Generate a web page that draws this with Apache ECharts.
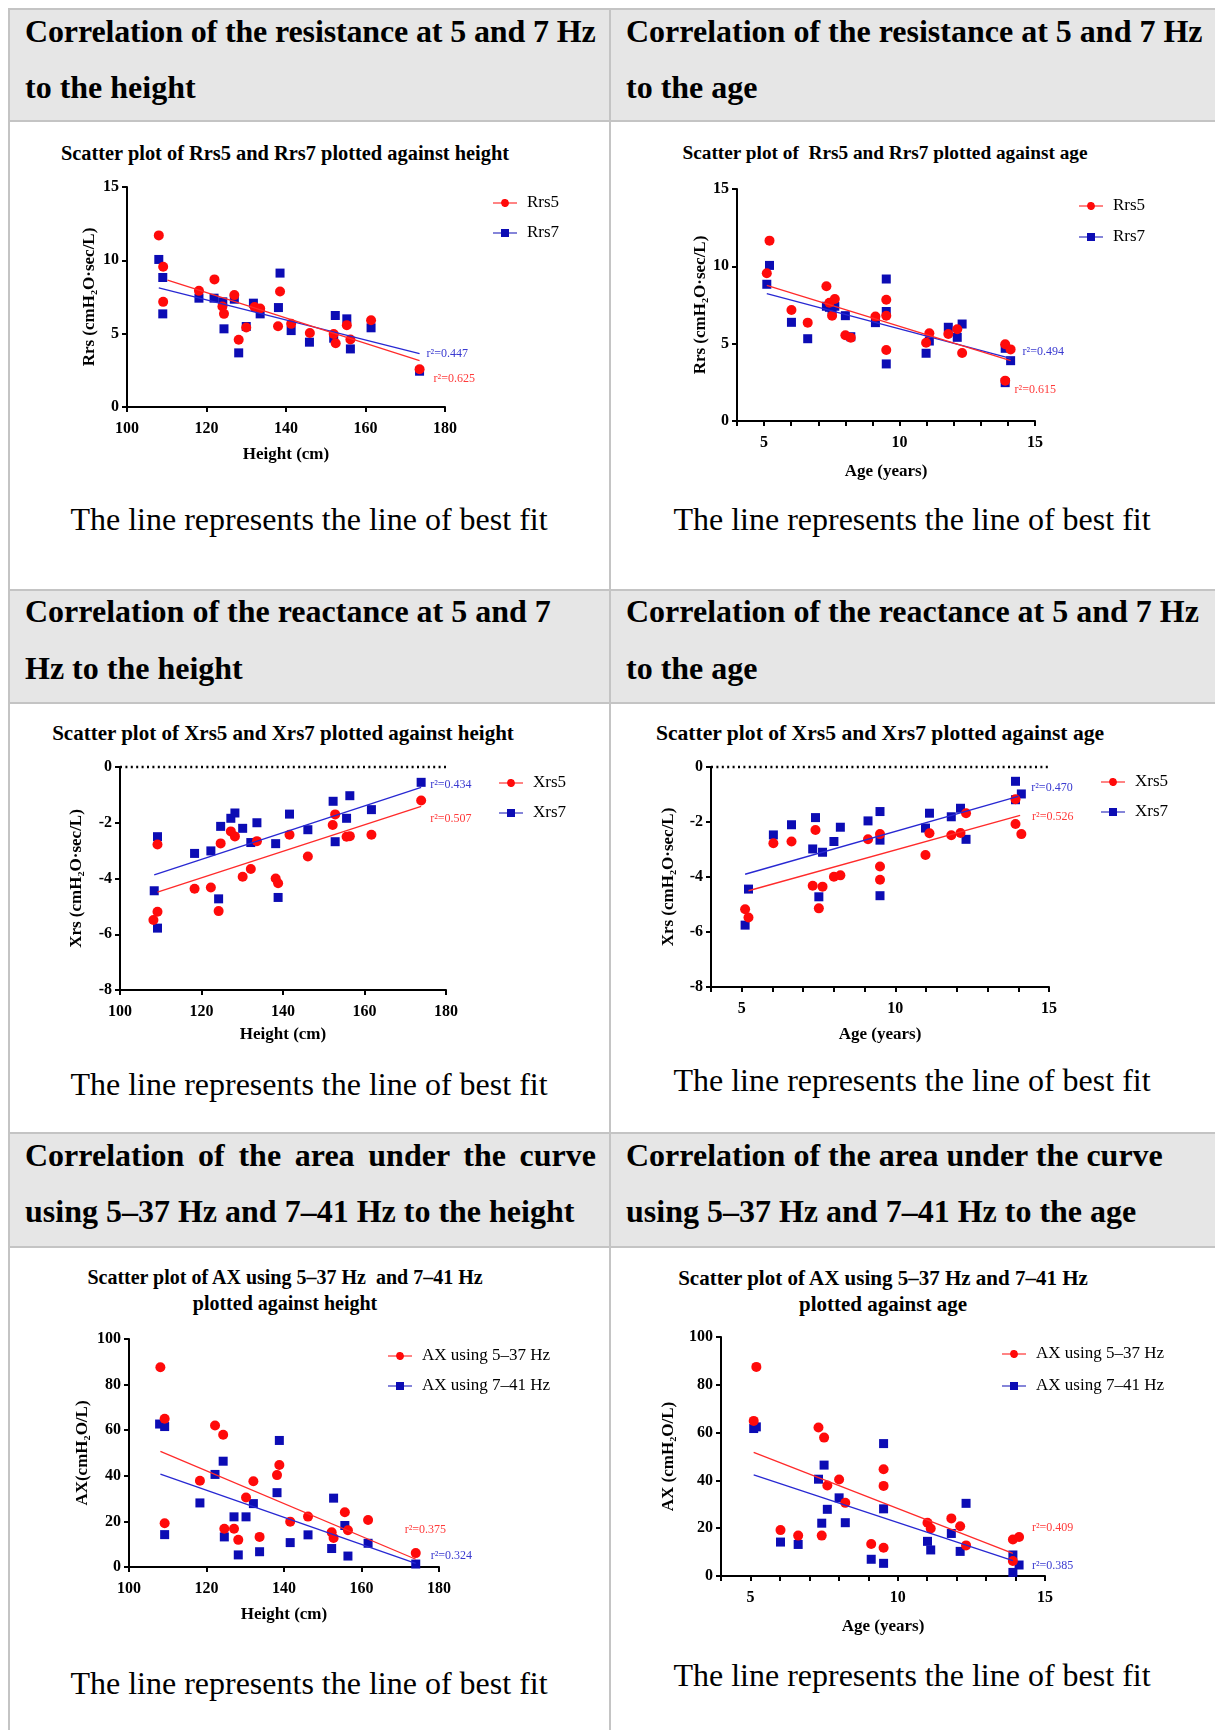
<!DOCTYPE html>
<html><head><meta charset="utf-8">
<script src="https://cdn.jsdelivr.net/npm/echarts@6/dist/echarts.min.js"></script>
<style>
html,body{margin:0;padding:0;background:#fff;}
#page{position:relative;width:1215px;height:1730px;overflow:hidden;font-family:'Liberation Serif','Times New Roman',serif;color:#000;}
.bg{position:absolute;background:#e6e6e6;}
.hl{position:absolute;background:#c4c4c4;height:2px;}
.vl{position:absolute;background:#c4c4c4;width:2px;}
.ht{position:absolute;font-weight:bold;font-size:32px;line-height:40px;white-space:pre;}
.just{white-space:normal;text-align:justify;text-align-last:justify;}
.cap{position:absolute;font-size:32px;line-height:40px;text-align:center;white-space:pre;width:600px;}
.ct{position:absolute;font-weight:bold;font-size:20px;line-height:24px;text-align:center;white-space:pre;width:600px;}
#chart{position:absolute;left:0;top:0;width:1215px;height:1730px;}
</style></head>
<body>
<div id="page">
  <div class="bg" style="left:10px;top:10px;width:599px;height:110px"></div>
  <div class="bg" style="left:611px;top:10px;width:604px;height:110px"></div>
  <div class="bg" style="left:10px;top:591px;width:599px;height:111px"></div>
  <div class="bg" style="left:611px;top:591px;width:604px;height:111px"></div>
  <div class="bg" style="left:10px;top:1134px;width:599px;height:112px"></div>
  <div class="bg" style="left:611px;top:1134px;width:604px;height:112px"></div>
  <div class="hl" style="left:8px;top:8px;width:1207px"></div>
  <div class="hl" style="left:8px;top:120px;width:1207px"></div>
  <div class="hl" style="left:8px;top:589px;width:1207px"></div>
  <div class="hl" style="left:8px;top:702px;width:1207px"></div>
  <div class="hl" style="left:8px;top:1132px;width:1207px"></div>
  <div class="hl" style="left:8px;top:1246px;width:1207px"></div>
  <div class="vl" style="left:8px;top:8px;height:1722px"></div>
  <div class="vl" style="left:609px;top:8px;height:1722px"></div>

  <div class="ht" style="left:25px;top:11px;letter-spacing:-0.14px">Correlation of the resistance at 5 and 7 Hz</div>
  <div class="ht" style="left:25px;top:67px">to the height</div>
  <div class="ht" style="left:626px;top:11px">Correlation of the resistance at 5 and 7 Hz</div>
  <div class="ht" style="left:626px;top:67px">to the age</div>

  <div class="ht" style="left:25px;top:591px">Correlation of the reactance at 5 and 7</div>
  <div class="ht" style="left:25px;top:648px">Hz to the height</div>
  <div class="ht" style="left:626px;top:591px">Correlation of the reactance at 5 and 7 Hz</div>
  <div class="ht" style="left:626px;top:648px">to the age</div>

  <div class="ht just" style="left:25px;top:1135px;width:571px">Correlation of the area under the curve</div>
  <div class="ht" style="left:25px;top:1191px">using 5–37 Hz and 7–41 Hz to the height</div>
  <div class="ht" style="left:626px;top:1135px">Correlation of the area under the curve</div>
  <div class="ht" style="left:626px;top:1191px">using 5–37 Hz and 7–41 Hz to the age</div>

  <div class="ct" style="left:-15px;top:141px;font-size:20.4px">Scatter plot of Rrs5 and Rrs7 plotted against height</div>
  <div class="ct" style="left:585px;top:141px;font-size:19.3px">Scatter plot of  Rrs5 and Rrs7 plotted against age</div>
  <div class="ct" style="left:-17px;top:721px;font-size:21px">Scatter plot of Xrs5 and Xrs7 plotted against height</div>
  <div class="ct" style="left:580px;top:721px;font-size:21.6px">Scatter plot of Xrs5 and Xrs7 plotted against age</div>
  <div class="ct" style="left:-15px;top:1264px;line-height:26px">Scatter plot of AX using 5–37 Hz  and 7–41 Hz
plotted against height</div>
  <div class="ct" style="left:583px;top:1265px;line-height:26px;font-size:21px">Scatter plot of AX using 5–37 Hz and 7–41 Hz
plotted against age</div>

  <div class="cap" style="left:9px;top:499px">The line represents the line of best fit</div>
  <div class="cap" style="left:612px;top:499px">The line represents the line of best fit</div>
  <div class="cap" style="left:9px;top:1064px">The line represents the line of best fit</div>
  <div class="cap" style="left:612px;top:1060px">The line represents the line of best fit</div>
  <div class="cap" style="left:9px;top:1663px">The line represents the line of best fit</div>
  <div class="cap" style="left:612px;top:1655px">The line represents the line of best fit</div>

  <div id="chart"></div>
</div>
<script>
// ---------- data ----------
const rrs5VsHeight = [[108.0,11.70],[109.1,9.56],[109.1,7.17],[118.1,7.92],[122.0,8.70],[124.0,6.85],[124.4,6.35],[127.0,7.63],[128.1,4.58],[130.0,5.42],[132.1,6.81],[133.5,6.72],[138.0,5.51],[138.5,7.88],[141.3,5.67],[146.0,5.05],[152.0,4.98],[152.5,4.35],[155.3,5.58],[156.2,4.60],[161.4,5.92],[173.6,2.57]];
const rrs7VsHeight = [[108.0,10.06],[109.0,8.83],[109.0,6.35],[118.1,7.42],[121.9,7.42],[124.1,7.17],[124.4,5.33],[127.0,7.35],[128.1,3.69],[130.0,5.49],[131.8,7.08],[133.5,6.35],[138.1,6.78],[138.5,9.13],[141.3,5.21],[145.9,4.42],[152.0,4.69],[152.4,6.24],[155.3,6.01],[156.2,3.96],[161.4,5.40],[173.6,2.44]];
const rrs5VsAge = [[5.10,9.55],[5.20,11.66],[6.01,7.18],[6.61,6.36],[7.30,8.71],[7.41,7.65],[7.51,6.81],[7.61,7.89],[8.00,5.54],[8.20,5.39],[9.11,6.75],[9.51,7.84],[9.51,6.81],[9.51,4.59],[10.98,5.06],[11.10,5.67],[11.80,5.63],[12.13,5.93],[12.31,4.40],[13.90,4.96],[14.10,4.63],[13.90,2.61]];
const rrs7VsAge = [[5.10,8.84],[5.20,10.06],[6.01,6.38],[6.61,5.32],[7.30,7.42],[7.41,7.35],[7.51,7.17],[7.61,7.42],[8.00,6.81],[8.20,5.45],[9.11,6.36],[9.51,9.18],[9.51,7.08],[9.51,3.69],[10.98,4.38],[11.10,5.17],[11.80,6.06],[12.13,5.41],[12.31,6.27],[13.90,4.70],[14.10,3.90],[13.90,2.48]];
const xrs5VsHeight = [[108.2,-5.49],[109.2,-2.78],[109.2,-5.19],[118.3,-4.37],[122.3,-4.32],[124.2,-5.17],[124.7,-2.74],[127.2,-2.31],[128.2,-2.49],[130.1,-3.94],[132.1,-3.66],[133.6,-2.66],[138.2,-4.00],[138.8,-4.17],[141.6,-2.43],[146.1,-3.21],[152.2,-2.08],[152.8,-1.70],[155.6,-2.50],[156.4,-2.48],[161.7,-2.43],[173.9,-1.20]];
const xrs7VsHeight = [[108.4,-4.44],[109.2,-2.50],[109.2,-5.78],[118.3,-3.10],[122.3,-3.01],[124.2,-4.73],[124.7,-2.13],[127.2,-1.84],[128.2,-1.65],[130.1,-2.20],[132.1,-2.71],[133.6,-2.00],[138.2,-2.75],[138.8,-4.68],[141.6,-1.69],[146.1,-2.25],[152.3,-1.23],[152.8,-2.68],[155.6,-1.84],[156.4,-1.03],[161.7,-1.53],[173.9,-0.55]];
const xrs5VsAge = [[5.11,-5.17],[5.22,-5.47],[6.03,-2.77],[6.62,-2.71],[7.31,-4.32],[7.40,-2.29],[7.51,-5.14],[7.63,-4.35],[8.00,-3.99],[8.21,-3.94],[9.11,-2.63],[9.50,-2.44],[9.50,-3.62],[9.50,-4.10],[10.98,-3.20],[11.11,-2.41],[11.82,-2.48],[12.12,-2.40],[12.30,-1.68],[13.91,-1.17],[13.91,-2.07],[14.10,-2.44]];
const xrs7VsAge = [[5.11,-5.75],[5.22,-4.44],[6.03,-2.47],[6.62,-2.10],[7.31,-2.98],[7.40,-1.84],[7.51,-4.72],[7.63,-3.10],[8.00,-2.71],[8.21,-2.19],[9.11,-1.96],[9.50,-1.62],[9.50,-2.66],[9.50,-4.68],[10.98,-2.22],[11.11,-1.68],[11.82,-1.81],[12.12,-1.50],[12.30,-2.63],[13.91,-0.52],[13.91,-1.19],[14.10,-0.98]];
const ax537VsHeight = [[108.1,87.6],[109.2,65.0],[109.2,19.2],[118.3,37.8],[122.2,62.1],[124.3,58.0],[124.6,16.8],[127.1,16.8],[128.2,11.9],[130.2,30.5],[132.1,37.6],[133.7,13.2],[138.2,40.3],[138.8,44.7],[141.6,19.9],[146.2,22.1],[152.3,15.2],[152.8,12.7],[155.7,24.0],[156.5,16.1],[161.7,20.6],[174.0,6.1]];
const ax741VsHeight = [[107.9,62.7],[109.2,61.6],[109.2,14.2],[118.3,28.1],[122.2,40.6],[124.3,46.4],[124.6,13.2],[127.1,22.0],[128.2,5.3],[130.2,22.0],[132.1,27.8],[133.7,6.7],[138.2,32.6],[138.8,55.5],[141.6,10.7],[146.2,14.1],[152.3,8.1],[152.8,30.2],[155.7,18.2],[156.5,4.8],[161.7,10.4],[174.0,1.3]];
const ax537VsAge = [[5.11,64.9],[5.20,87.5],[6.02,19.2],[6.62,16.9],[7.31,62.1],[7.42,16.9],[7.50,57.9],[7.61,37.9],[8.01,40.4],[8.22,30.6],[9.10,13.4],[9.52,44.7],[9.52,37.7],[9.52,11.8],[11.01,22.3],[11.12,19.9],[11.82,24.1],[12.12,20.8],[12.32,12.8],[13.91,15.3],[14.12,16.3],[13.91,6.3]];
const ax741VsAge = [[5.11,61.7],[5.20,62.4],[6.02,14.2],[6.62,13.2],[7.31,40.5],[7.42,22.1],[7.50,46.4],[7.61,27.9],[8.01,32.7],[8.22,22.3],[9.10,7.0],[9.52,55.4],[9.52,28.1],[9.52,5.3],[11.01,14.5],[11.12,10.9],[11.82,17.8],[12.12,10.3],[12.32,30.4],[13.91,8.8],[14.12,4.6],[13.91,1.5]];

// best-fit line end points
const fitRrs5Height = [[110.2,8.65],[173.6,3.16]];
const fitRrs7Height = [[108.0,8.13],[173.6,3.64]];
const fitRrs5Age = [[5.1,8.77],[14.1,3.90]];
const fitRrs7Age = [[5.1,8.23],[14.1,4.05]];
const fitXrs5Height = [[109.2,-4.49],[173.9,-1.41]];
const fitXrs7Height = [[108.4,-3.87],[173.9,-0.73]];
const fitXrs5Age = [[5.22,-4.50],[14.06,-1.76]];
const fitXrs7Age = [[5.11,-3.90],[14.0,-1.07]];
const fitAx537Height = [[108.1,50.7],[174.0,3.4]];
const fitAx741Height = [[108.1,40.7],[174.0,1.6]];
const fitAx537Age = [[5.11,51.7],[13.91,9.5]];
const fitAx741Age = [[5.11,42.3],[13.91,6.4]];

// r squared values (red series, blue series) per panel
const r2Red = [0.625, 0.615, 0.507, 0.526, 0.375, 0.409];
const r2Blue = [0.447, 0.494, 0.434, 0.470, 0.324, 0.385];

// ---------- styling ----------
const FONT = "'Liberation Serif','Times New Roman',serif";
const RED = '#ff0a0a', BLUE = '#0c0cb4', RED_LINE = '#ff2a2a', BLUE_LINE = '#2828d2', RED_TXT = '#ff3a3a', BLUE_TXT = '#3a3ad0';
const CIRCLE_ICON = 'path://M0,4.4H8.05A4,4 0 0 1 15.95,4.4H24V5.6H15.95A4,4 0 0 1 8.05,5.6H0Z';
const SQUARE_ICON = 'path://M0,4.4H8V1H16V4.4H24V5.6H16V9H8V5.6H0Z';
const ageFmt = v => (v % 5 === 0 ? String(v) : '');

const heightAxis = {min:100, max:180, interval:20, name:'Height (cm)'};
const ageAxis = {min:4, max:15, interval:1, name:'Age (years)', fmt:ageFmt};

const panels = [
  {grid:{left:127,top:187,width:318,height:220}, x:Object.assign({gap:39},heightAxis),
   y:{min:0,max:15,interval:5,name:'Rrs (cmH₂O·sec/L)',gap:29},
   red:{name:'Rrs5',data:rrs5VsHeight,fit:fitRrs5Height,off:[14,18]},
   blue:{name:'Rrs7',data:rrs7VsHeight,fit:fitRrs7Height,off:[7,0]},
   legend:{left:493,top:193,gap:10}},
  {grid:{left:737,top:189,width:298,height:232}, x:Object.assign({gap:42},ageAxis),
   y:{min:0,max:15,interval:5,name:'Rrs (cmH₂O·sec/L)',gap:28},
   red:{name:'Rrs5',data:rrs5VsAge,fit:fitRrs5Age,off:[4,29]},
   blue:{name:'Rrs7',data:rrs7VsAge,fit:fitRrs7Age,off:[12,-7]},
   legend:{left:1079,top:196,gap:11}},
  {grid:{left:120,top:767,width:326,height:223}, x:Object.assign({gap:36},heightAxis),
   y:{min:-8,max:0,interval:2,name:'Xrs (cmH₂O·sec/L)',gap:35},
   red:{name:'Xrs5',data:xrs5VsHeight,fit:fitXrs5Height,off:[9,13]},
   blue:{name:'Xrs7',data:xrs7VsHeight,fit:fitXrs7Height,off:[9,-3]},
   legend:{left:499,top:773,gap:10}, zero:true},
  {grid:{left:711,top:767,width:338,height:220}, x:Object.assign({gap:39},ageAxis),
   y:{min:-8,max:0,interval:2,name:'Xrs (cmH₂O·sec/L)',gap:34},
   red:{name:'Xrs5',data:xrs5VsAge,fit:fitXrs5Age,off:[12,1]},
   blue:{name:'Xrs7',data:xrs7VsAge,fit:fitXrs7Age,off:[13,-9]},
   legend:{left:1101,top:772,gap:10}, zero:true},
  {grid:{left:129,top:1339,width:310,height:228}, x:Object.assign({gap:39},heightAxis),
   y:{min:0,max:100,interval:20,name:'AX(cmH₂O/L)',gap:38},
   red:{name:'AX using 5–37 Hz',data:ax537VsHeight,fit:fitAx537Height,off:[-11,-29]},
   blue:{name:'AX using 7–41 Hz',data:ax741VsHeight,fit:fitAx741Height,off:[15,-8]},
   legend:{left:388,top:1346,gap:10}},
  {grid:{left:721,top:1337,width:324,height:239}, x:Object.assign({gap:42},ageAxis),
   y:{min:0,max:100,interval:20,name:'AX (cmH₂O/L)',gap:44},
   red:{name:'AX using 5–37 Hz',data:ax537VsAge,fit:fitAx537Age,off:[19,-25]},
   blue:{name:'AX using 7–41 Hz',data:ax741VsAge,fit:fitAx741Age,off:[19,5]},
   legend:{left:1002,top:1344,gap:12}}
];

const grids = [], xAxes = [], yAxes = [], series = [], legends = [];
const axLine = {onZero:false, lineStyle:{color:'#000', width:2}};
const axTick = {length:5, lineStyle:{color:'#000', width:2}};
const nameStyle = {fontFamily:FONT, fontWeight:'bold', fontSize:17, color:'#000'};

panels.forEach((p, i) => {
  grids.push(Object.assign({outerBoundsMode:'none', containLabel:false}, p.grid));
  const xLabel = {margin:14, fontFamily:FONT, fontWeight:'bold', fontSize:16, color:'#000'};
  if (p.x.fmt) xLabel.formatter = p.x.fmt;
  xAxes.push({type:'value', gridIndex:i, min:p.x.min, max:p.x.max, interval:p.x.interval,
    name:p.x.name, nameLocation:'middle', nameGap:p.x.gap, nameTextStyle:nameStyle,
    axisLine:axLine, axisTick:axTick, axisLabel:xLabel, splitLine:{show:false}});
  yAxes.push({type:'value', gridIndex:i, min:p.y.min, max:p.y.max, interval:p.y.interval,
    name:p.y.name, nameLocation:'middle', nameGap:p.y.gap, nameTextStyle:nameStyle,
    axisLine:axLine, axisTick:axTick,
    axisLabel:{margin:8, fontFamily:FONT, fontWeight:'bold', fontSize:16, color:'#000'},
    splitLine:{show:false}});
  const fitLine = (s, color, txt, r2) => ({
    type:'line', name:'fit ' + s.name + ' ' + i, xAxisIndex:i, yAxisIndex:i, data:s.fit,
    symbol:'none', silent:true, lineStyle:{color:color, width:1.3}, itemStyle:{color:color},
    endLabel:{show:true, formatter:'r²=' + r2.toFixed(3), color:txt, fontFamily:FONT, fontSize:12,
      distance:0, offset:s.off}
  });
  series.push(fitLine(p.blue, BLUE_LINE, BLUE_TXT, r2Blue[i]));
  series.push(fitLine(p.red, RED_LINE, RED_TXT, r2Red[i]));
  series.push({type:'scatter', name:p.blue.name, xAxisIndex:i, yAxisIndex:i, data:p.blue.data,
    symbol:'rect', symbolSize:9, itemStyle:{color:BLUE, opacity:1}});
  const redS = {type:'scatter', name:p.red.name, xAxisIndex:i, yAxisIndex:i, data:p.red.data,
    symbol:'circle', symbolSize:10, itemStyle:{color:RED, opacity:1}};
  if (p.zero) {
    redS.markLine = {silent:true, symbol:['none','none'], label:{show:false},
      lineStyle:{color:'#000', type:[2,3.4], width:2.4}, data:[{yAxis:0}]};
  }
  series.push(redS);
  legends.push({left:p.legend.left, top:p.legend.top, orient:'vertical', padding:0,
    itemWidth:24, itemHeight:10, itemGap:p.legend.gap, selectedMode:false,
    textStyle:{fontFamily:FONT, fontSize:17, color:'#000', lineHeight:20, padding:[0,0,0,5]},
    data:[{name:p.red.name, icon:CIRCLE_ICON}, {name:p.blue.name, icon:SQUARE_ICON}]});
});

const chart = echarts.init(document.getElementById('chart'), null, {renderer:'canvas'});
chart.setOption({animation:false, backgroundColor:'transparent',
  grid:grids, xAxis:xAxes, yAxis:yAxes, legend:legends, series:series});
</script>
</body></html>
